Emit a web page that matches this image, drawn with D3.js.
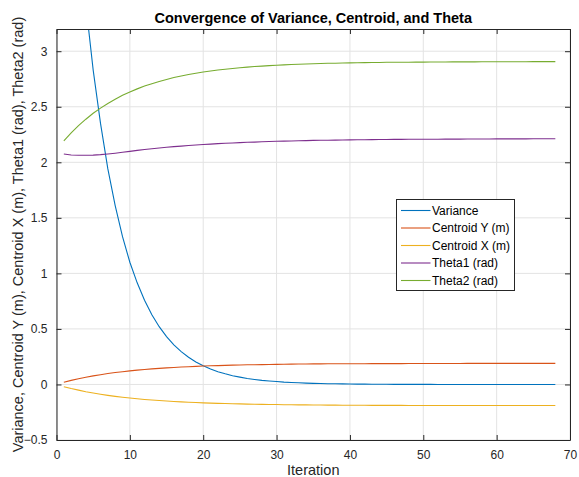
<!DOCTYPE html>
<html>
<head>
<meta charset="utf-8">
<script src="https://cdn.jsdelivr.net/npm/d3@7"></script>
<style>
  body { margin: 0; background: #fff; }
  svg { display: block; font-family: "Liberation Sans", Arial, sans-serif; }
</style>
</head>
<body>
<div id="chart"></div>
<script>
const iterations = d3.range(1, 69);

const variance = [
  6.02, 4.99, 4.13, 3.42, 2.83, 2.35, 1.94, 1.61, 1.33, 1.10,
  0.915, 0.758, 0.628, 0.520, 0.431, 0.357, 0.296, 0.245, 0.203, 0.168,
  0.139, 0.115, 0.096, 0.079, 0.066, 0.054, 0.045, 0.037, 0.031, 0.026,
  0.021, 0.018, 0.015, 0.012, 0.010, 0.008, 0.007, 0.006, 0.005, 0.004,
  0.003, 0.003, 0.002, 0.002, 0.002, 0.001, 0.001, 0.001, 0.001, 0.001,
  0.001, 0, 0, 0, 0, 0, 0, 0, 0, 0,
  0, 0, 0, 0, 0, 0, 0, 0
];

const centroidY = [
  0.020, 0.037, 0.051, 0.065, 0.077, 0.088, 0.098, 0.107, 0.115, 0.122,
  0.129, 0.135, 0.140, 0.145, 0.149, 0.153, 0.157, 0.160, 0.163, 0.166,
  0.168, 0.170, 0.172, 0.174, 0.175, 0.177, 0.178, 0.179, 0.180, 0.181,
  0.182, 0.183, 0.184, 0.184, 0.185, 0.185, 0.186, 0.186, 0.187, 0.187,
  0.187, 0.187, 0.188, 0.188, 0.188, 0.188, 0.188, 0.189, 0.189, 0.189,
  0.189, 0.189, 0.189, 0.189, 0.189, 0.190, 0.190, 0.190, 0.190, 0.190,
  0.190, 0.190, 0.190, 0.190, 0.190, 0.190, 0.190, 0.190
];

const centroidX = [
  -0.020, -0.037, -0.051, -0.065, -0.077, -0.088, -0.098, -0.107, -0.115, -0.122,
  -0.129, -0.135, -0.140, -0.145, -0.149, -0.153, -0.157, -0.160, -0.163, -0.166,
  -0.168, -0.170, -0.172, -0.174, -0.175, -0.177, -0.178, -0.179, -0.180, -0.181,
  -0.182, -0.183, -0.184, -0.184, -0.185, -0.185, -0.186, -0.186, -0.187, -0.187,
  -0.187, -0.187, -0.188, -0.188, -0.188, -0.188, -0.188, -0.189, -0.189, -0.189,
  -0.189, -0.189, -0.189, -0.189, -0.189, -0.190, -0.190, -0.190, -0.190, -0.190,
  -0.190, -0.190, -0.190, -0.190, -0.190, -0.190, -0.190, -0.190
];

const theta1 = [
  2.075, 2.066, 2.063, 2.063, 2.065, 2.069, 2.075, 2.082, 2.090, 2.098,
  2.107, 2.115, 2.122, 2.129, 2.135, 2.141, 2.146, 2.151, 2.156, 2.160,
  2.164, 2.168, 2.171, 2.174, 2.177, 2.180, 2.182, 2.185, 2.187, 2.189,
  2.191, 2.192, 2.194, 2.195, 2.197, 2.198, 2.199, 2.200, 2.201, 2.202,
  2.203, 2.203, 2.204, 2.205, 2.205, 2.206, 2.206, 2.207, 2.207, 2.208,
  2.208, 2.208, 2.209, 2.209, 2.209, 2.210, 2.210, 2.210, 2.210, 2.211,
  2.211, 2.211, 2.211, 2.211, 2.212, 2.212, 2.212, 2.212
];

const theta2 = [
  2.192, 2.264, 2.330, 2.388, 2.441, 2.488, 2.530, 2.568, 2.603, 2.633,
  2.661, 2.686, 2.708, 2.728, 2.746, 2.763, 2.777, 2.790, 2.802, 2.813,
  2.822, 2.831, 2.838, 2.845, 2.851, 2.857, 2.862, 2.866, 2.870, 2.874,
  2.877, 2.880, 2.883, 2.885, 2.887, 2.889, 2.891, 2.892, 2.894, 2.895,
  2.896, 2.897, 2.898, 2.899, 2.900, 2.900, 2.901, 2.901, 2.902, 2.902,
  2.903, 2.903, 2.903, 2.904, 2.904, 2.904, 2.904, 2.905, 2.905, 2.905,
  2.905, 2.905, 2.905, 2.905, 2.906, 2.906, 2.906, 2.906
];

const seriesNames = ["Variance", "Centroid Y (m)", "Centroid X (m)", "Theta1 (rad)", "Theta2 (rad)"];
const seriesValues = [variance, centroidY, centroidX, theta1, theta2];
const colors = ["#0072BD", "#D95319", "#EDB120", "#7E2F8E", "#77AC30"];

const xTicks = [0, 10, 20, 30, 40, 50, 60, 70];
const yTicks = [-0.5, 0, 0.5, 1, 1.5, 2, 2.5, 3];

const width = 579, height = 477;
const padding = { l: 56.5, r: 9, t: 29, b: 37 };
const axisColor = "#262626";

const svg = d3.select("#chart").append("svg").attr("width", width).attr("height", height);

const x = d3.scaleLinear().domain([0, 70]).range([padding.l, width - padding.r]);
const y = d3.scaleLinear().domain([-0.5, 3.2]).range([height - padding.b, padding.t]);

// grid
svg.append("g")
  .selectAll("line")
  .data(xTicks)
  .join("line")
  .attr("x1", (d) => x(d)).attr("x2", (d) => x(d))
  .attr("y1", y(3.2)).attr("y2", y(-0.5))
  .attr("stroke", "#e3e3e3").attr("stroke-width", 1);
svg.append("g")
  .selectAll("line")
  .data(yTicks)
  .join("line")
  .attr("x1", x(0)).attr("x2", x(70))
  .attr("y1", (d) => y(d)).attr("y2", (d) => y(d))
  .attr("stroke", "#e3e3e3").attr("stroke-width", 1);

svg.append("clipPath").attr("id", "plot-clip")
  .append("rect")
  .attr("x", x(0)).attr("y", y(3.2))
  .attr("width", x(70) - x(0)).attr("height", y(-0.5) - y(3.2));

const line = d3.line()
  .x((d) => x(d[0]))
  .y((d) => y(d[1]));

svg.append("g")
  .attr("clip-path", "url(#plot-clip)")
  .selectAll("path")
  .data(seriesValues)
  .join("path")
  .attr("d", (vals) => line(iterations.map((it, i) => [it, vals[i]])))
  .attr("fill", "none")
  .attr("stroke", (d, i) => colors[i])
  .attr("stroke-width", 1.1);

// axes (box with inward ticks on all four sides)
const tickLen = 5;
const styleAxis = (g) => {
  g.select(".domain").attr("stroke", axisColor);
  g.selectAll(".tick line").attr("stroke", axisColor);
  g.selectAll(".tick text").attr("fill", axisColor).attr("font-size", 12).attr("font-family", "Liberation Sans, Arial, sans-serif");
};

svg.append("g")
  .attr("transform", `translate(0, ${y(-0.5)})`)
  .call(d3.axisBottom(x).tickValues(xTicks).tickSizeInner(-tickLen).tickSizeOuter(0).tickPadding(10))
  .call(styleAxis);
svg.append("g")
  .attr("transform", `translate(0, ${y(3.2)})`)
  .call(d3.axisTop(x).tickValues(xTicks).tickSizeInner(-tickLen).tickSizeOuter(0).tickFormat(""))
  .call(styleAxis);
svg.append("g")
  .attr("transform", `translate(${x(0)}, 0)`)
  .call(d3.axisLeft(y).tickValues(yTicks).tickSizeInner(-tickLen).tickSizeOuter(0).tickPadding(9).tickFormat(d3.format("")))
  .call(styleAxis);
svg.append("g")
  .attr("transform", `translate(${x(70)}, 0)`)
  .call(d3.axisRight(y).tickValues(yTicks).tickSizeInner(-tickLen).tickSizeOuter(0).tickFormat(""))
  .call(styleAxis);

// titles
svg.append("text")
  .attr("x", (x(0) + x(70)) / 2).attr("y", 22.5)
  .attr("text-anchor", "middle")
  .attr("font-size", 14.5).attr("font-weight", "bold")
  .attr("fill", "#000")
  .text("Convergence of Variance, Centroid, and Theta");

svg.append("text")
  .attr("x", (x(0) + x(70)) / 2).attr("y", 475)
  .attr("text-anchor", "middle")
  .attr("font-size", 14.5)
  .attr("fill", axisColor)
  .text("Iteration");

svg.append("text")
  .attr("transform", `translate(23, ${(y(3.2) + y(-0.5)) / 2}) rotate(-90)`)
  .attr("text-anchor", "middle")
  .attr("font-size", 14.5)
  .attr("fill", axisColor)
  .text("Variance, Centroid Y (m), Centroid X (m), Theta1 (rad), Theta2 (rad)");

// legend
const legend = svg.append("g").attr("transform", "translate(396.5, 199.5)");
legend.append("rect")
  .attr("width", 118).attr("height", 91)
  .attr("fill", "#fff").attr("stroke", axisColor).attr("stroke-width", 1);
const items = legend.selectAll("g")
  .data(seriesNames)
  .join("g")
  .attr("transform", (d, i) => `translate(0, ${11 + i * 17.5})`);
items.append("line")
  .attr("x1", 4.5).attr("x2", 34)
  .attr("stroke", (d, i) => colors[i]).attr("stroke-width", 1.1);
items.append("text")
  .attr("x", 35.5).attr("dy", "0.35em")
  .attr("font-size", 12)
  .attr("fill", "#000")
  .text((d) => d);
</script>
</body>
</html>
